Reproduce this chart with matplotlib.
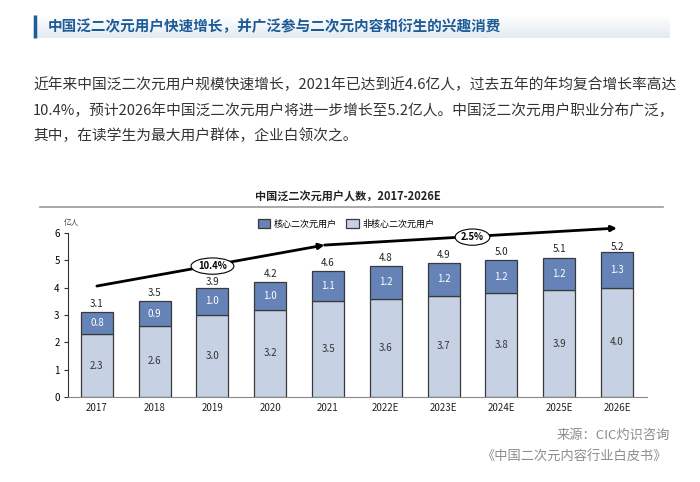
import matplotlib
matplotlib.use('Agg')
import matplotlib.pyplot as plt
import numpy as np

plt.rcParams['font.family'] = ['Noto Sans CJK SC', 'DejaVu Sans']

# dados do gráfico (亿人)
years = ['2017', '2018', '2019', '2020', '2021', '2022E', '2023E', '2024E', '2025E', '2026E']
core = [0.8, 0.9, 1.0, 1.0, 1.1, 1.2, 1.2, 1.2, 1.2, 1.3]
noncore = [2.3, 2.6, 3.0, 3.2, 3.5, 3.6, 3.7, 3.8, 3.9, 4.0]
totals = [3.1, 3.5, 3.9, 4.2, 4.6, 4.8, 4.9, 5.0, 5.1, 5.2]
cagr_labels = ['10.4%', '2.5%']
series_names = ['核心二次元用户', '非核心二次元用户']

header = '中国泛二次元用户快速增长，并广泛参与二次元内容和衍生的兴趣消费'
para = ['近年来中国泛二次元用户规模快速增长，2021年已达到近4.6亿人，过去五年的年均复合增长率高达',
        '10.4%，预计2026年中国泛二次元用户将进一步增长至5.2亿人。中国泛二次元用户职业分布广泛，',
        '其中，在读学生为最大用户群体，企业白领次之。']
chart_title = '中国泛二次元用户人数，2017-2026E'
source = ['来源：CIC灼识咨询', '《中国二次元内容行业白皮书》']

dark = '#6583b6'
light = '#c6d1e4'
edge = '#3a3a3a'

fig = plt.figure(figsize=(7, 4.82), dpi=100)

# camada de fundo em coordenadas de pixel
bg = fig.add_axes([0, 0, 1, 1])
grad = np.linspace(0, 1, 50).reshape(-1, 1)
top_c = np.array([1.0, 1.0, 1.0])
bot_c = np.array([0.89, 0.92, 0.95])
img = top_c + (bot_c - top_c) * grad[:, :, None]
img = np.repeat(img, 2, axis=1)
bg.imshow(img, extent=[33, 670, 38, 15], aspect='auto', interpolation='bilinear')
bg.plot([34.5, 34.5], [15, 38], color='#1f5c99', lw=2.5, solid_capstyle='butt')
bg.set_xlim(0, 700)
bg.set_ylim(482, 0)
bg.axis('off')

bg.text(48, 26, header, fontsize=10.5, fontweight='bold', color='#1d5b97', va='center')
for i, line in enumerate(para):
    bg.text(33, 85 + i * 25.5, line, fontsize=10.6, color='#333333', va='center')

bg.text(348, 197, chart_title, fontsize=8, fontweight='bold', color='#222222', ha='center', va='center')
bg.plot([40, 663], [207, 207], color='#999999', lw=1.2)
bg.text(64, 223, '亿人', fontsize=5.5, color='#444444', va='center')

bg.text(670, 435, source[0], fontsize=9.5, color='#8c8c8c', ha='right', va='center')
bg.text(667, 457, source[1], fontsize=9.5, color='#8c8c8c', ha='right', va='center')

# gráfico de barras empilhadas
ax = fig.add_axes([68 / 700, 1 - 397 / 482, 579 / 700, 6.6 * 27.33 / 482])
ax.patch.set_alpha(0)
x = np.arange(len(years))
w = 0.555
b1 = ax.bar(x, noncore, w, color=light, edgecolor=edge, linewidth=0.9)
b2 = ax.bar(x, core, w, bottom=noncore, color=dark, edgecolor=edge, linewidth=0.9)

for i in range(len(years)):
    ax.text(x[i], noncore[i] / 2, f'{noncore[i]:.1f}', ha='center', va='center', fontsize=7, color='#333333')
    ax.text(x[i], noncore[i] + core[i] / 2, f'{core[i]:.1f}', ha='center', va='center', fontsize=7, color='white')
    ax.text(x[i], totals[i] + 0.12, f'{totals[i]:.1f}', ha='center', va='bottom', fontsize=7, color='#222222')

# setas de crescimento (CAGR)
arrow = dict(arrowstyle='-|>', lw=2, color='black', mutation_scale=8, shrinkA=0, shrinkB=0)
ax.annotate('', xy=(3.94, 5.56), xytext=(0, 4.06), arrowprops=arrow, annotation_clip=False)
ax.annotate('', xy=(9.0, 6.18), xytext=(3.94, 5.56), arrowprops=arrow, annotation_clip=False)
ell = dict(boxstyle='ellipse,pad=0.08', fc='white', ec='black', lw=0.8)
ax.text(2.0, 4.79, cagr_labels[0], ha='center', va='center', fontsize=6.8, fontweight='bold', bbox=ell)
ax.text(6.5, 5.85, cagr_labels[1], ha='center', va='center', fontsize=6.8, fontweight='bold', bbox=ell)

ax.set_xlim(-0.5, 9.52)
ax.set_ylim(0, 6.6)
ax.set_xticks(x)
ax.set_xticklabels(years, fontsize=7, color='#222222')
ax.set_yticks(range(7))
ax.tick_params(axis='y', labelsize=7, length=3, width=0.8, color='#333333', pad=3)
ax.tick_params(axis='x', length=0, pad=4)
for s in ['top', 'right']:
    ax.spines[s].set_visible(False)
ax.spines['left'].set_bounds(0, 6)
ax.spines['left'].set_color('#333333')
ax.spines['bottom'].set_color('#888888')

fig.legend([b2, b1], series_names, loc='center', bbox_to_anchor=(346 / 700, 1 - 224 / 482),
           ncol=2, frameon=False, fontsize=6.5, handlelength=1.4, handleheight=1.0,
           columnspacing=1.0, handletextpad=0.4)

plt.savefig('out.png', dpi=100)
